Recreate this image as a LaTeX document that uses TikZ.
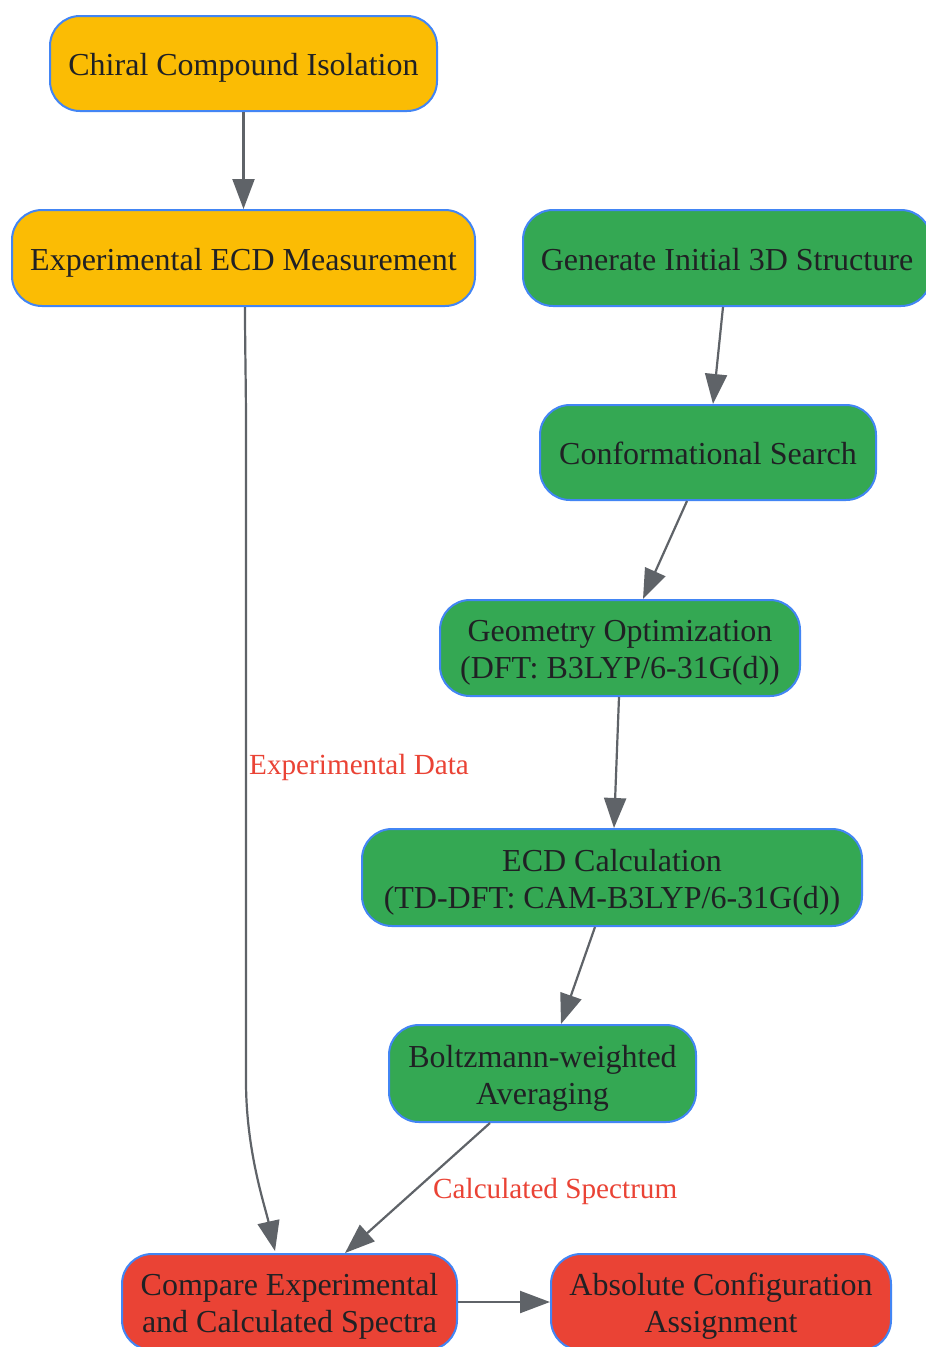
\documentclass[tikz,border=0pt]{standalone}
\usepackage{fontspec}
\setmainfont{Liberation Serif}
\usetikzlibrary{arrows.meta}
\definecolor{cyellow}{HTML}{FBBC04}
\definecolor{cgreen}{HTML}{34A853}
\definecolor{cred}{HTML}{EA4335}
\definecolor{cborder}{HTML}{4285F4}
\definecolor{cedge}{HTML}{5F6368}
\definecolor{ctext}{HTML}{202124}
\tikzset{
  box/.style={draw=cborder, line width=2pt, rounded corners=30pt, inner sep=0pt},
  txt/.style={align=center, text=ctext, inner sep=0pt, yshift=-4.5pt,
    font=\fontsize{32}{37}\selectfont},
  onetxt/.style={txt, text height=22pt, text depth=7pt},
  ybox/.style={box, fill=cyellow},
  gbox/.style={box, fill=cgreen},
  rbox/.style={box, fill=cred},
  conn/.style={draw=cedge, line width=2.2pt, -{Triangle[length=30pt, width=22pt]}},
  lbl/.style={text=cred, font=\fontsize{29.2}{34}\selectfont, inner sep=0pt, anchor=west}
}
\begin{document}
\begin{tikzpicture}[x=1pt, y=-1pt]
\useasboundingbox (0,0) rectangle (926,1347);
\fill[white] (0,0) rectangle (926,1347);
\node[ybox, minimum width=387pt, minimum height=95pt,
  label={[onetxt]center:Chiral Compound Isolation}] (n1) at (243.5,63.5) {};
\node[ybox, minimum width=463pt, minimum height=96pt,
  label={[onetxt]center:Experimental ECD Measurement}] (n2) at (243.5,258) {};
\node[gbox, minimum width=408pt, minimum height=96pt,
  label={[onetxt]center:Generate Initial 3D Structure}] (n3) at (727,258) {};
\node[gbox, minimum width=336pt, minimum height=95pt,
  label={[onetxt]center:Conformational Search}] (n4) at (708,452.5) {};
\node[gbox, minimum width=360pt, minimum height=96pt,
  label={[txt]center:{Geometry Optimization\\(DFT: B3LYP/6-31G(d))}}] (n5) at (620,648) {};
\node[gbox, minimum width=500pt, minimum height=97pt,
  label={[txt]center:{ECD Calculation\\(TD-DFT: CAM-B3LYP/6-31G(d))}}] (n6) at (612,877.5) {};
\node[gbox, minimum width=307pt, minimum height=97pt,
  label={[txt]center:{Boltzmann-weighted\\Averaging}}] (n7) at (542.5,1073.5) {};
\node[rbox, minimum width=335pt, minimum height=96pt,
  label={[txt]center:{Compare Experimental\\and Calculated Spectra}}] (n8) at (289.5,1302) {};
\node[rbox, minimum width=340pt, minimum height=96pt,
  label={[txt]center:{Absolute Configuration\\Assignment}}] (n9) at (721,1302) {};

\node[lbl] (l1) at (249,767) {Experimental Data};
\node[lbl] (l2) at (433,1191) {Calculated Spectrum};

\draw[conn] (n1) -- (n2);
\draw[conn] ([xshift=1.5pt]n2.south) .. controls +(0,40) and +(0,-40) .. ++(1,120) -- ++(0,654)
  .. controls +(0,70) and +(-10,-45) .. ([xshift=-14.5pt,yshift=2pt]n8.north);
\draw[conn] ([xshift=-4pt]n3.south) -- ([xshift=5pt]n4.north);
\draw[conn] ([xshift=-21pt]n4.south) -- ([xshift=23pt]n5.north);
\draw[conn] ([xshift=-1pt]n5.south) -- ([xshift=2pt]n6.north);
\draw[conn] ([xshift=-17pt]n6.south) -- ([xshift=18.5pt]n7.north);
\draw[conn] ([xshift=-52.5pt]n7.south) -- ([xshift=55.5pt]n8.north);
\draw[conn] (n8) -- (n9);
\end{tikzpicture}
\end{document}
